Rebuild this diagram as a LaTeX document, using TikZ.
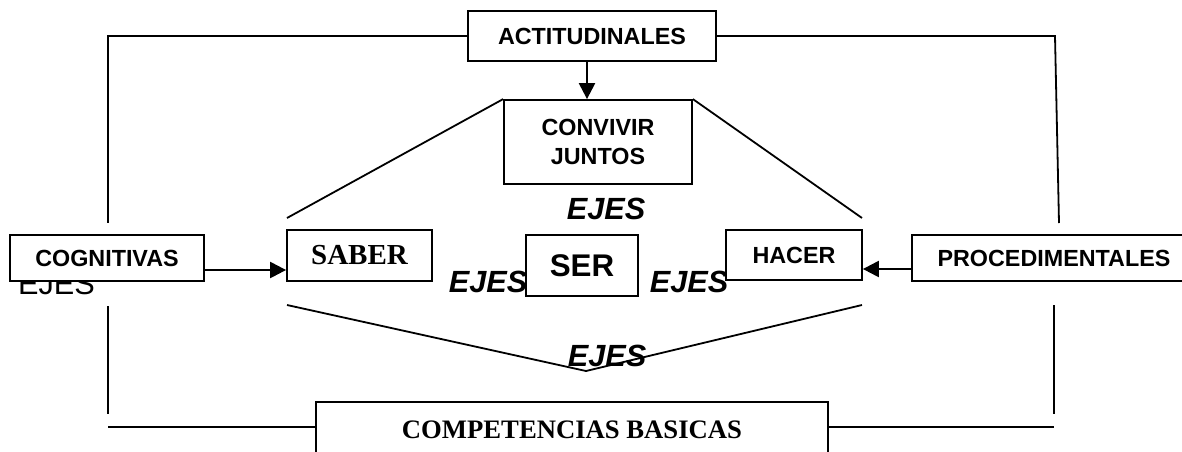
\documentclass[tikz,border=0pt]{standalone}
\usepackage{fontspec}
\setmainfont{Liberation Sans}
\newfontfamily\tnrfam{Liberation Serif}
\usetikzlibrary{arrows.meta}
\newcommand\boxfont{\fontsize{17.5}{21.2}\selectfont\bfseries}
\newcommand\serfont{\fontsize{23.5}{28}\selectfont\bfseries}
\newcommand\saberfont{\tnrfam\fontsize{21.75}{26}\selectfont\bfseries}
\newcommand\compfont{\tnrfam\fontsize{20}{24}\selectfont\bfseries}
\begin{document}
\begin{tikzpicture}[x=0.75pt,y=-0.75pt,
  box/.style={draw, fill=white, line width=1.35pt, inner sep=0pt, align=center, font=\boxfont},
  ln/.style={line width=1.35pt},
  arr/.style={line width=1.7pt, -{Triangle[length=12pt,width=12pt]}},
  ejes/.style={font=\fontsize{23}{27}\selectfont\bfseries\itshape, inner sep=0pt, anchor=base},
  ejesplain/.style={font=\fontsize{23}{27}\selectfont, inner sep=0pt, anchor=base}]
\fill[white] (0,0) rectangle (1182,451);
\useasboundingbox (0,0) rectangle (1182,451);
\clip (0,0) rectangle (1182,451);

% coordinates for free line ends
\coordinate (tl) at (108,35);
\coordinate (tr) at (1055,35);
\coordinate (tlb) at (108,223);
\coordinate (trb) at (1059,223);
\coordinate (lb1) at (108,306);
\coordinate (lb2) at (108,414);
\coordinate (rb1) at (1054,305);
\coordinate (rb2) at (1054,414);
\coordinate (bl) at (108,427);
\coordinate (br) at (1054,427);
\coordinate (dl) at (287,218);
\coordinate (dr) at (862,218);
\coordinate (vl) at (287,305);
\coordinate (vb) at (586,371);
\coordinate (vr) at (862,305);
\coordinate (ax) at (587,0);
\coordinate (ay1) at (0,270);
\coordinate (ay2) at (0,269);

% texts that lie beneath boxes
\node[ejesplain] (ejplain) at (56.5,294) {EJES};
\node[ejes] (ejl) at (488,292) {EJES};
\node[ejes] (ejr) at (689,292) {EJES};
\node[ejes] (ejt) at (606,219) {EJES};
\node[ejes] (ejb) at (607,366) {EJES};

% boxes
\node[box, minimum width=186pt, minimum height=37.5pt] (act) at (592,36) {ACTITUDINALES};
\node[box, minimum width=141pt, minimum height=63pt] (conv) at (598,142) {CONVIVIR\\JUNTOS};
\node[box, minimum width=145.5pt, minimum height=34.5pt] (cog) at (107,258) {COGNITIVAS};
\node[box, minimum width=108.75pt, minimum height=38.25pt, font=\saberfont] (saber) at (359.5,255.5) {SABER};
\node[box, minimum width=84pt, minimum height=45.75pt, font=\serfont] (ser) at (582,265.5) {SER};
\node[box, minimum width=102pt, minimum height=37.5pt] (hacer) at (794,255) {HACER};
\node[box, minimum width=213pt, minimum height=34.5pt] (proc) at (1054,258) {PROCEDIMENTALES};
\node[box, minimum width=384pt, minimum height=42pt, font=\compfont] (comp) at (572,430) {COMPETENCIAS BASICAS};

% frame lines
\draw[ln] (act.west) -- (act.west -| tl) -- (tlb);
\draw[ln] (act.east) -- (act.east -| tr) -- (trb);
\draw[ln] (lb1) -- (lb2);
\draw[ln] (rb1) -- (rb2);
\draw[ln] (bl) -- (comp.west |- bl);
\draw[ln] (comp.east |- br) -- (br);

% diagonals
\draw[ln] (conv.north west) -- (dl);
\draw[ln] (conv.north east) -- (dr);
\draw[ln] (vl) -- (vb) -- (vr);

% arrows
\draw[arr] (act.south -| ax) -- (conv.north -| ax);
\draw[arr] (cog.east |- ay1) -- (saber.west |- ay1);
\draw[arr] (proc.west |- ay2) -- (hacer.east |- ay2);
\end{tikzpicture}
\end{document}
